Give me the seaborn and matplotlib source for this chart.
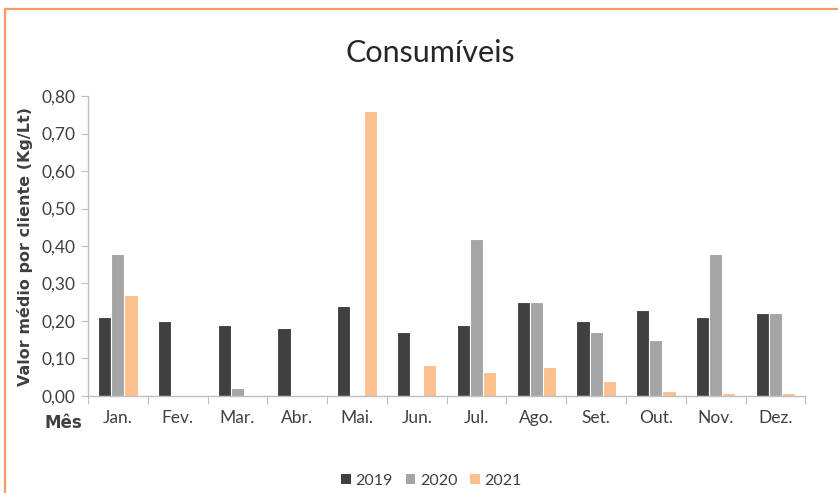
import matplotlib
matplotlib.use("Agg")
import matplotlib.pyplot as plt
from matplotlib.patches import Rectangle, Patch
from matplotlib.ticker import FixedLocator, FuncFormatter
import seaborn as sns
import pandas as pd

months = ["Jan.", "Fev.", "Mar.", "Abr.", "Mai.", "Jun.", "Jul.", "Ago.", "Set.", "Out.", "Nov.", "Dez."]
years = ["2019", "2020", "2021"]
v2019 = [0.21, 0.20, 0.19, 0.18, 0.24, 0.17, 0.19, 0.25, 0.20, 0.23, 0.21, 0.22]
v2020 = [0.38, 0.00, 0.02, 0.00, 0.00, 0.00, 0.42, 0.25, 0.17, 0.15, 0.38, 0.22]
v2021 = [0.27, 0.00, 0.00, 0.00, 0.76, 0.083, 0.063, 0.076, 0.041, 0.013, 0.008, 0.008]
colors = ["#404040", "#a5a5a5", "#fbc08d"]

df = pd.DataFrame({
    "Mês": months * 3,
    "Ano": [y for y in years for _ in months],
    "Valor": v2019 + v2020 + v2021,
})

sns.set_theme(style="white")
plt.rcParams["font.family"] = ["Lato", "DejaVu Sans"]

fig = plt.figure(figsize=(8.38, 4.93), dpi=100)
ax = fig.add_axes([0.105, 0.197, 0.856, 0.608])

sns.barplot(data=df, x="Mês", y="Valor", hue="Ano", order=months, hue_order=years,
            palette=colors, saturation=1, width=0.66, edgecolor="white", linewidth=0.8,
            legend=False, ax=ax)

ax.set_ylim(0, 0.8)
ax.set_xlim(-0.5, 11.5)
ax.set_yticks([i / 10 for i in range(9)])
ax.yaxis.set_major_formatter(FuncFormatter(lambda v, p: f"{v:.2f}".replace(".", ",")))
ax.tick_params(axis="y", which="major", length=5, width=0.8, color="#bfbfbf",
               labelsize=12.5, labelcolor="#404040", pad=4, left=True)
ax.tick_params(axis="x", which="major", length=0, labelsize=12.5, labelcolor="#404040", pad=10)
ax.xaxis.set_minor_locator(FixedLocator([i - 0.5 for i in range(13)]))
ax.tick_params(axis="x", which="minor", length=6, width=0.8, color="#bfbfbf", bottom=True)

for s in ["top", "right"]:
    ax.spines[s].set_visible(False)
for s in ["left", "bottom"]:
    ax.spines[s].set_color("#bfbfbf")
    ax.spines[s].set_linewidth(1.0)

ax.set_xlabel("")
ax.set_ylabel("Valor médio por cliente (Kg/Lt)", fontsize=11.5, fontweight="bold",
              color="#404040", family="DejaVu Sans")
ax.yaxis.set_label_coords(-0.077, 0.5)

fig.text(0.076, 0.143, "Mês", fontsize=12, fontweight="bold", color="#404040",
         ha="center", va="center", family="DejaVu Sans")
fig.text(0.513, 0.893, "Consumíveis", fontsize=22, fontweight="normal",
         color="#262626", ha="center", va="center")

handles = [Patch(facecolor=c, edgecolor="none") for c in colors]
fig.legend(handles, years, loc="center", bbox_to_anchor=(0.515, 0.025), ncol=3,
           frameon=False, fontsize=11.5, handlelength=0.6, handleheight=0.6,
           handletextpad=0.3, columnspacing=0.8, labelcolor="#404040")

fig.patches.append(Rectangle((0.0065, -0.05), 1.2, 1.05 - 9.5 / 493, transform=fig.transFigure,
                             fill=False, edgecolor="#f79a63", linewidth=1.6, zorder=10))

fig.savefig("out.png", dpi=100)
